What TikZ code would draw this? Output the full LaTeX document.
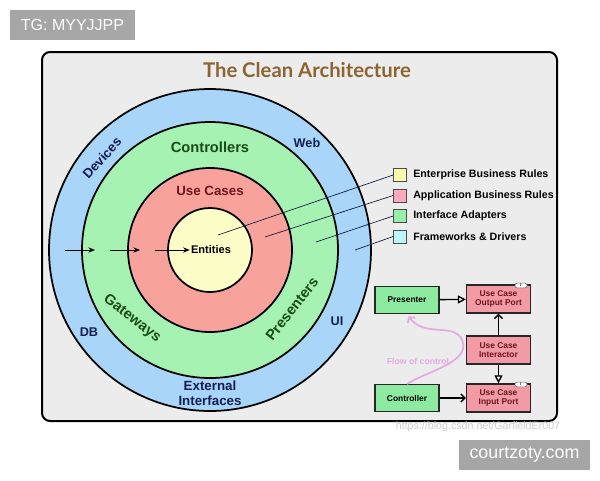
\documentclass[tikz,border=0pt]{standalone}
\usepackage{fontspec}
\setmainfont{Liberation Sans}
\newfontfamily\titlefont{Lato}
\usetikzlibrary{arrows.meta}
\definecolor{panelgray}{RGB}{236,236,236}
\definecolor{ringblue}{RGB}{168,213,248}
\definecolor{ringgreen}{RGB}{165,242,178}
\definecolor{ringred}{RGB}{248,162,156}
\definecolor{ringyellow}{RGB}{253,253,200}
\definecolor{legyellow}{RGB}{250,250,170}
\definecolor{legred}{RGB}{250,170,190}
\definecolor{leggreen}{RGB}{150,240,170}
\definecolor{legblue}{RGB}{190,245,250}
\definecolor{txtgreen}{RGB}{25,75,25}
\definecolor{txtred}{RGB}{110,20,30}
\definecolor{txtblue}{RGB}{20,30,80}
\definecolor{titlebrown}{RGB}{140,100,50}
\definecolor{boxgreen}{RGB}{140,235,160}
\definecolor{boxred}{RGB}{242,155,165}
\definecolor{flowpink}{RGB}{228,170,228}
\definecolor{wmgray}{RGB}{166,166,166}
\newcommand\sz[1]{\fontsize{#1}{#1}\selectfont}
\tikzset{
  ring/.style={line width=1.3pt, draw=black},
  lbl/.style={inner sep=0.75pt, font=\bfseries\sz{#1}},
  legbox/.style={draw=black!70, line width=0.5pt, minimum size=9.75pt, inner sep=0pt},
  legtxt/.style={anchor=west, inner sep=0.75pt, font=\bfseries\sz{8}},
  leader/.style={draw=txtblue!80!black, line width=0.5pt},
  flowbox/.style={draw=black!85, line width=1pt, minimum width=48pt, minimum height=20pt, inner sep=0pt, align=center, font=\bfseries\sz{6.3}},
  iface/.style={draw=black!60, fill=white, rounded corners=1.5pt, line width=0.4pt, minimum width=9pt, minimum height=3.5pt, inner sep=0pt, font=\bfseries\sz{3}},
  wm/.style={fill=wmgray, text=white, inner sep=0pt}
}
\begin{document}
\begin{tikzpicture}[x=0.75pt,y=0.75pt,yscale=-1,xscale=1]
\useasboundingbox (0,0) rectangle (600,480);
\fill[white] (0,0) rectangle (600,480);
% watermarks
\node[wm, minimum width=93.75pt, minimum height=22.5pt, font=\sz{12}] (tg) at (72.5,25) {TG: MYYJJPP};
\node[wm, minimum width=98pt, minimum height=22.5pt, font=\sz{13.4}] (site) at (524.5,455) {courtzoty.com};

% panel
\draw [line width=1.5pt, fill=panelgray, rounded corners=6pt] (42,52) rectangle (557,421);
\node[inner sep=0.75pt, text=titlebrown, font=\titlefont\bfseries\sz{15.2}] (title) at (307,70) {The Clean Architecture};

% rings
\draw [ring, fill=ringblue] (210,250) circle (161);
\draw [ring, fill=ringgreen] (210,250) circle (128);
\draw [ring, fill=ringred] (210,250) circle (82);
\draw [ring, fill=ringyellow] (210,250) circle (42);

% points the leader lines start from
\coordinate (pEnt) at (218,235);
\coordinate (pUse) at (265,237);
\coordinate (pAdp) at (316,242);
\coordinate (pFrm) at (355,250);

% Text Node
\node[lbl=8.3] (ent) at (211,250) {Entities};
\node[lbl=10, text=txtred] (uc) at (210,191) {Use Cases};
\node[lbl=11, text=txtgreen] (ctl) at (210,147) {Controllers};
\node[lbl=11, text=txtgreen, rotate=-38] (gw) at (132,319) {Gateways};
\node[lbl=11, text=txtgreen, rotate=52] (prs) at (292,309) {Presenters};
\node[lbl=10, text=txtblue, rotate=48] (dev) at (102,158) {Devices};
\node[lbl=9.5, text=txtblue] (web) at (307,143) {Web};
\node[lbl=9.5, text=txtblue] (db) at (89,332) {DB};
\node[lbl=9.5, text=txtblue] (ui) at (337,321) {UI};
\node[lbl=10, text=txtblue, align=center] (ext) at (210,393) {External\\[1pt]Interfaces};

% dependency arrows
\coordinate (a0) at (65,250);
\coordinate (a1) at (95,250);
\coordinate (b0) at (110,250);
\coordinate (b1) at (140,250);
\coordinate (c0) at (155,250);
\draw [line width=0.6pt, -{Stealth[length=5pt,width=4pt]}] (a0) -- (a1);
\draw [line width=0.6pt, -{Stealth[length=5pt,width=4pt]}] (b0) -- (b1);
\draw [line width=0.6pt, -{Stealth[length=5pt,width=4pt]}] (c0) -- (ent.west);

% legend
\node[legbox, fill=legyellow] (lEnt) at (400,175) {};
\node[legbox, fill=legred] (lUse) at (400,195.5) {};
\node[legbox, fill=leggreen] (lAdp) at (400,216) {};
\node[legbox, fill=legblue] (lFrm) at (400,236.5) {};
\node[legtxt] (tEnt) at (412,175) {Enterprise Business Rules};
\node[legtxt] (tUse) at (412,195.5) {Application Business Rules};
\node[legtxt] (tAdp) at (412,216) {Interface Adapters};
\node[legtxt] (tFrm) at (412,236.5) {Frameworks \& Drivers};
\draw [leader] (pEnt) -- (lEnt.west);
\draw [leader] (pUse) -- (lUse.west);
\draw [leader] (pAdp) -- (lAdp.west);
\draw [leader] (pFrm) -- (lFrm.west);

% flow of control
\node[flowbox, fill=boxgreen] (pres) at (407,300) {Presenter};
\node[flowbox, fill=boxred, text=txtred, minimum height=21pt] (outp) at (498.5,299) {Use Case\\Output Port};
\node[flowbox, fill=boxred, text=txtred, minimum height=21pt] (inter) at (498.5,350) {Use Case\\Interactor};
\node[flowbox, fill=boxgreen] (ctrl) at (407,398) {Controller};
\node[flowbox, fill=boxred, text=txtred, minimum height=21pt] (inp) at (498.5,398) {Use Case\\Input Port};
\node[iface] (iOut) at (521,285.5) {I};
\node[iface] (iIn) at (521,384.5) {I};
\draw [line width=1pt, -{Triangle[open,length=6pt,width=6pt]}] (pres) -- (outp);
\draw [line width=1pt, -{Straight Barb[length=3pt,width=6pt]}] (inter) -- (outp);
\draw [line width=1pt, -{Triangle[open,length=6pt,width=6pt]}] (inter) -- (inp);
\draw [line width=1pt, -{Straight Barb[length=3pt,width=6pt]}] (ctrl) -- (inp);
\draw [flowpink, line width=1.3pt, -{Straight Barb[length=3pt,width=7pt]}, shorten >=2pt] (ctrl.north) .. controls (425,372) and (472,362) .. (462,340) .. controls (454,322) and (424,338) .. (pres.south);
\node[inner sep=0.75pt, text=flowpink, font=\bfseries\sz{6.5}] (flow) at (418,361) {Flow of control};

% url
\node[inner sep=0.75pt, text=black!20, font=\sz{8}] (url) at (478,427) {https://blog.csdn.net/GarfieldEr007};
\end{tikzpicture}
\end{document}
